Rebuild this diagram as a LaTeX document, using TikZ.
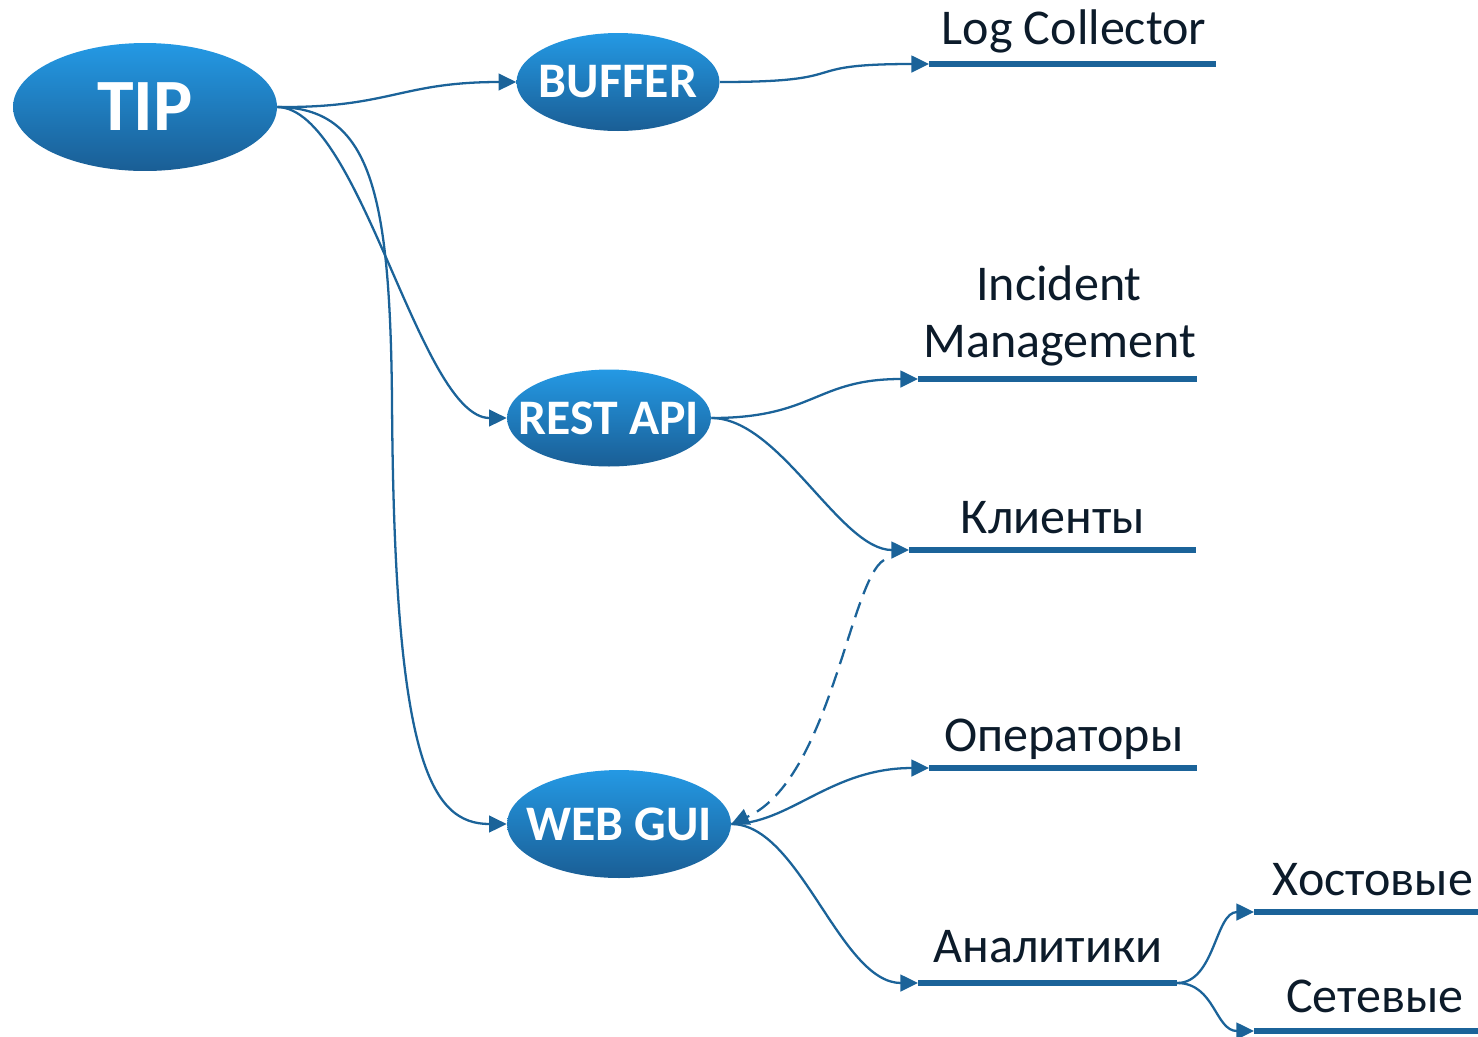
\documentclass[tikz,border=0pt]{standalone}
\usepackage{fontspec}
\setmainfont{Carlito}
\usetikzlibrary{shapes.geometric,arrows.meta}
\definecolor{linec}{HTML}{1B6399}
\definecolor{textc}{HTML}{0C1B2A}
\definecolor{topc}{HTML}{2499E4}
\definecolor{botc}{HTML}{1A5E95}
\begin{document}
\begin{tikzpicture}[x=0.02cm,y=-0.02cm,
  bubble/.style={ellipse, inner sep=0pt, draw=none, top color=topc, bottom color=botc},
  btext/.style={text=white, font=\bfseries\fontsize{28.3}{34}\selectfont, inner sep=0pt},
  ltext/.style={text=textc, font=\fontsize{28.5}{34}\selectfont, inner sep=0pt, anchor=base},
  uline/.style={draw=linec, line width=3.4pt},
  conn/.style={draw=linec, line width=1.3pt, -{Triangle[length=10pt,width=9.5pt]}},
  dconn/.style={conn, dash pattern=on 9pt off 5pt}]
\useasboundingbox (0,0) rectangle (1478,1036);

% bubbles
\node[bubble, minimum width=5.28cm, minimum height=2.56cm] (tip) at (145,107) {};
\node[btext, font=\bfseries\fontsize{42}{50}\selectfont] (tipT) at (tip) {TIP};
\node[bubble, minimum width=4.06cm, minimum height=1.96cm] (buffer) at (618,82) {};
\node[btext] (bufferT) at (buffer) {BUFFER};
\node[bubble, minimum width=4.08cm, minimum height=1.94cm] (rest) at (609,418) {};
\node[btext] (restT) at (rest) {REST API};
\node[bubble, minimum width=4.48cm, minimum height=2.16cm] (web) at (619,824) {};
\node[btext] (webT) at (web) {WEB GUI};

% underlined topics
\coordinate (logL) at (929,64);  \coordinate (logR) at (1216,64);
\coordinate (incL) at (918,379); \coordinate (incR) at (1197,379);
\coordinate (kliL) at (909,550); \coordinate (kliR) at (1196,550);
\coordinate (opL) at (929,768);  \coordinate (opR) at (1197,768);
\coordinate (anL) at (918,983);  \coordinate (anR) at (1177,983);
\coordinate (hosL) at (1254,912); \coordinate (hosR) at (1478,912);
\coordinate (setL) at (1254,1031); \coordinate (setR) at (1478,1031);
\foreach \a/\b in {logL/logR,incL/incR,kliL/kliR,opL/opR,anL/anR,hosL/hosR,setL/setR}
  \draw[uline] (\a) -- (\b);

\node[ltext] (logT) at (1074,44) {Log Collector};
\node[ltext] (incT) at (1059,300) {Incident};
\node[ltext] (mgmT) at (1060,357) {Management};
\node[ltext] (kliT) at (1053,533) {Клиенты};
\node[ltext] (opT) at (1064,751) {Операторы};
\node[ltext] (anT) at (1048,962) {Аналитики};
\node[ltext] (hosT) at (1373,895) {Хостовые};
\node[ltext] (setT) at (1375,1012) {Сетевые};

% connectors
\coordinate (bend1) at (392,400);
\coordinate (kliD) at (884,560);
\draw[conn] (tip.east) .. controls (390,108) and (400,82) .. (buffer.west);
\draw[conn] (buffer.east) .. controls (860,82) and (790,64) .. (logL);
\draw[conn] (tip.east) .. controls (360,108) and (420,418) .. (rest.west);
\draw[conn] (tip.east) .. controls (370,108) and (390,190) .. (bend1)
  .. controls (394,760) and (430,824) .. (web.west);
\draw[conn] (rest.east) .. controls (815,418) and (815,379) .. (incL);
\draw[conn] (rest.east) .. controls (780,418) and (840,550) .. (kliL);
\draw[dconn] (kliD) .. controls (850,580) and (830,780) .. (web.east);
\draw[conn] (web.east) .. controls (790,824) and (830,768) .. (opL);
\draw[conn] (web.east) .. controls (800,824) and (840,983) .. (anL);
\draw[conn] (anR) .. controls (1215,983) and (1215,912) .. (hosL);
\draw[conn] (anR) .. controls (1215,983) and (1215,1031) .. (setL);
\end{tikzpicture}
\end{document}
